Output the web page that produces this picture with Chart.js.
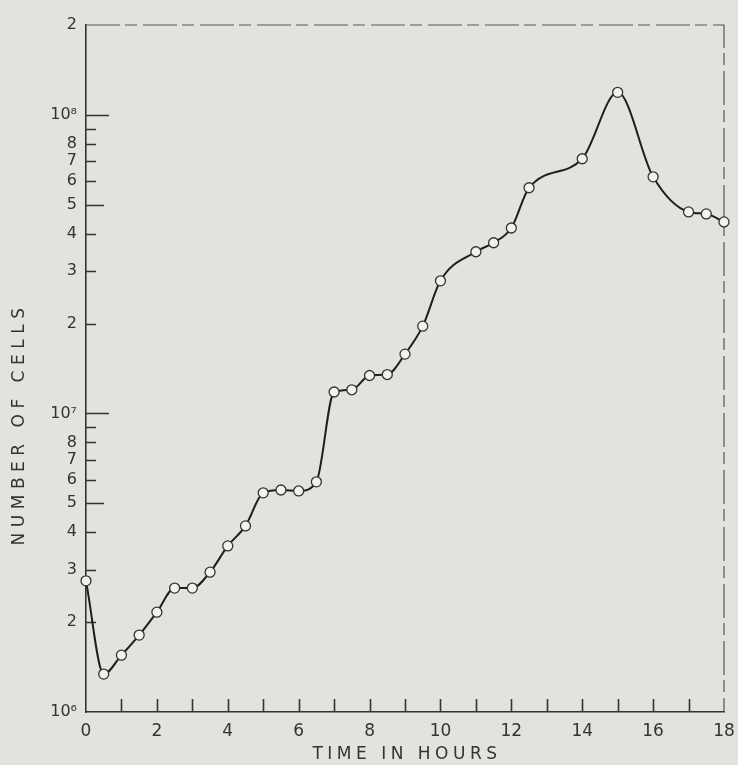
<!DOCTYPE html>
<html>
<head>
<meta charset="utf-8">
<script src="https://cdn.jsdelivr.net/npm/chart.js@4.4.1/dist/chart.umd.min.js"></script>
<style>
    html, body { margin: 0; padding: 0; background: #e2e3de; }
    #wrap { width: 738px; height: 765px; }
</style>
</head>
<body>
<div id="wrap"><canvas id="cellsChart"></canvas></div>
<script>
// values
const hours = [0, 0.5, 1, 1.5, 2, 2.5, 3, 3.5, 4, 4.5, 5, 5.5, 6, 6.5, 7, 7.5, 8, 8.5, 9, 9.5, 10, 11, 11.5, 12, 12.5, 14, 15, 16, 17, 17.5, 18];
const cells = [2.75e6, 1.34e6, 1.55e6, 1.81e6, 2.16e6, 2.6e6, 2.6e6, 2.94e6, 3.6e6, 4.2e6, 5.42e6, 5.54e6, 5.5e6, 5.9e6, 1.18e7, 1.2e7, 1.34e7, 1.35e7, 1.58e7, 1.96e7, 2.78e7, 3.48e7, 3.73e7, 4.18e7, 5.7e7, 7.13e7, 1.19e8, 6.2e7, 4.73e7, 4.66e7, 4.38e7];

const yTicks = [1e6, 2e6, 3e6, 4e6, 5e6, 6e6, 7e6, 8e6, 9e6, 1e7, 2e7, 3e7, 4e7, 5e7, 6e7, 7e7, 8e7, 9e7, 1e8, 2e8];
const yTickLabels = ["10⁶", "2", "3", "4", "5", "6", "7", "8", "", "10⁷", "2", "3", "4", "5", "6", "7", "8", "", "10⁸", "2"];
const xTicks = [0, 1, 2, 3, 4, 5, 6, 7, 8, 9, 10, 11, 12, 13, 14, 15, 16, 17, 18];
const xTickLabels = ["0", "", "2", "", "4", "", "6", "", "8", "", "10", "", "12", "", "14", "", "16", "", "18"];

const inkColor = "#333";
const fontFamily = "'DejaVu Sans', sans-serif";

// ticks point inward on this old figure, and the top/right frame is broken
const frameAndTicks = {
    id: "frameAndTicks",
    beforeDatasetsDraw(chart) {
        const ctx = chart.ctx;
        const area = chart.chartArea;
        const x = chart.scales.x;
        const y = chart.scales.y;
        ctx.save();
        ctx.strokeStyle = "#555";
        ctx.lineWidth = 1.2;
        ctx.setLineDash([34, 5, 12, 6]);
        ctx.beginPath();
        ctx.moveTo(area.left, area.top);
        ctx.lineTo(area.right, area.top);
        ctx.lineTo(area.right, area.bottom);
        ctx.stroke();
        ctx.setLineDash([]);

        ctx.strokeStyle = inkColor;
        ctx.lineWidth = 1.6;
        ctx.beginPath();
        yTicks.forEach((v, i) => {
            if (i === 0 || i === yTicks.length - 1) return;
            const py = Math.round(y.getPixelForValue(v)) + 0.5;
            const first = v / Math.pow(10, Math.floor(Math.log10(v) + 1e-9));
            let len = 10;
            if (Math.abs(first - 1) < 1e-6) len = 23;
            else if (Math.abs(first - 5) < 1e-6) len = 18;
            ctx.moveTo(area.left, py);
            ctx.lineTo(area.left + len, py);
        });
        xTicks.forEach((v, i) => {
            if (i === 0 || i === xTicks.length - 1) return;
            const px = Math.round(x.getPixelForValue(v)) + 0.5;
            ctx.moveTo(px, area.bottom);
            ctx.lineTo(px, area.bottom - 13);
        });
        ctx.stroke();
        ctx.restore();
    },
    afterDraw(chart) {
        const ctx = chart.ctx;
        const area = chart.chartArea;
        ctx.save();
        ctx.fillStyle = inkColor;
        ctx.font = "17px " + fontFamily;
        ctx.textAlign = "center";
        ctx.textBaseline = "middle";
        ctx.letterSpacing = "4.5px";
        ctx.fillText("TIME IN HOURS", (area.left + area.right) / 2 + 2, 755);
        ctx.letterSpacing = "5.5px";
        ctx.translate(20, 424);
        ctx.rotate(-Math.PI / 2);
        ctx.fillText("NUMBER OF CELLS", 0, 0);
        ctx.restore();
    }
};

const ctx = document.getElementById("cellsChart").getContext("2d");
new Chart(ctx, {
    type: "line",
    data: {
        datasets: [{
            data: hours.map((h, i) => ({ x: h, y: cells[i] })),
            borderColor: "#1e1e1e",
            borderWidth: 2,
            cubicInterpolationMode: "monotone",
            pointRadius: 5,
            pointBackgroundColor: "#f2f2ee",
            pointBorderColor: "#333",
            pointBorderWidth: 1.3,
            clip: false
        }]
    },
    options: {
        responsive: true,
        maintainAspectRatio: false,
        animation: false,
        events: [],
        layout: { padding: { left: 0, right: 14, top: 25, bottom: 0 } },
        plugins: {
            legend: { display: false },
            tooltip: { enabled: false }
        },
        scales: {
            x: {
                type: "linear",
                min: 0,
                max: 18,
                afterFit: scale => {
                    scale.height = 53;
                    scale.paddingRight = 0;
                    scale.paddingLeft = 0;
                },
                afterBuildTicks: scale => { scale.ticks = xTicks.map(v => ({ value: v })); },
                grid: { display: false, drawTicks: false },
                border: { display: true, color: inkColor, width: 1.6 },
                ticks: {
                    autoSkip: false,
                    maxRotation: 0,
                    padding: 9,
                    color: inkColor,
                    font: { family: fontFamily, size: 17 },
                    callback: (v, i) => xTickLabels[i]
                }
            },
            y: {
                type: "logarithmic",
                min: 1e6,
                max: 2e8,
                afterFit: scale => {
                    scale.width = 86;
                    scale.paddingTop = 0;
                    scale.paddingBottom = 0;
                },
                afterBuildTicks: scale => { scale.ticks = yTicks.map(v => ({ value: v })); },
                grid: { display: false, drawTicks: false },
                border: { display: true, color: inkColor, width: 1.6 },
                ticks: {
                    autoSkip: false,
                    padding: 9,
                    color: inkColor,
                    font: { family: fontFamily, size: 16 },
                    callback: (v, i) => yTickLabels[i]
                }
            }
        }
    },
    plugins: [frameAndTicks]
});
</script>
</body>
</html>
